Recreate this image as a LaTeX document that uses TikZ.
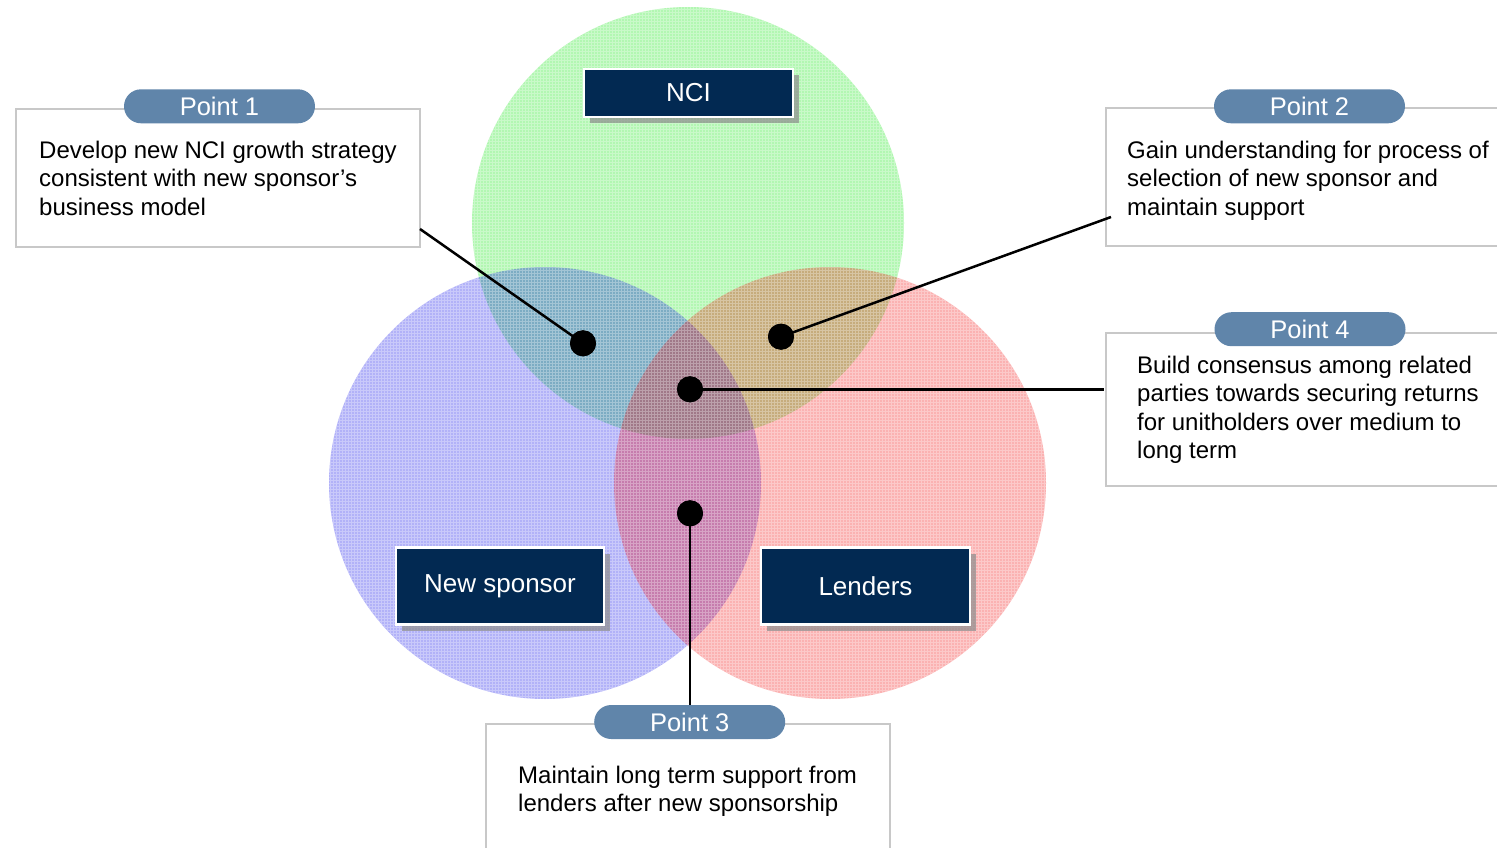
\documentclass[tikz,border=0pt]{standalone}
\usepackage{fontspec}
\setmainfont{Liberation Sans}
\usetikzlibrary{shadows}
\definecolor{vgreen}{RGB}{0,230,0}
\definecolor{vblue}{RGB}{0,0,235}
\definecolor{vred}{RGB}{245,0,0}
\definecolor{navy}{RGB}{2,41,82}
\definecolor{pillblue}{RGB}{96,133,170}
\definecolor{boxgrey}{RGB}{200,200,200}
\begin{document}
\begin{tikzpicture}[x=1pt,y=-1pt,
  venn/.style={fill opacity=0.3},
  mesh/.style={white, line width=0.5pt, opacity=0.3},
  pointbox/.style={draw=boxgrey, line width=2pt, fill=white, inner sep=0pt, anchor=north west},
  pill/.style={fill=pillblue, rounded corners=17pt, minimum width=191pt, minimum height=34pt,
    inner sep=0pt, text=white, font=\fontsize{25.5}{28}\selectfont},
  partybox/.style={fill=navy, draw=white, line width=2.5pt, text=white, inner sep=0pt,
    font=\fontsize{26}{30}\selectfont,
    drop shadow={shadow xshift=6pt, shadow yshift=-6pt, fill=black!45, opacity=0.7}},
  body/.style={font=\fontsize{24}{28.5}\selectfont, align=left, anchor=north west, inner sep=0pt},
  dot/.style={circle, fill=black, minimum size=26pt, inner sep=0pt},
  leader/.style={line width=2.5pt, black}]

\useasboundingbox[fill=white] (0,0) rectangle (1497,848);

% three overlapping circles
\fill[vgreen, venn] (688,223) circle (216);
\fill[vblue, venn] (545,483) circle (216);
\fill[vred, venn] (830,483) circle (216);

% fine mesh texture inside the circles
\begin{scope}
  \clip (688,223) circle (216) (545,483) circle (216) (830,483) circle (216);
  \draw[mesh, step=3pt] (320,0) grid (1060,710);
\end{scope}

% text boxes with their headings
\node[pointbox, minimum width=404pt, minimum height=138pt] (b1) at (15,108) {};
\node[pointbox, minimum width=420pt, minimum height=137pt] (b2) at (1105,107.5) {};
\node[pointbox, minimum width=420pt, minimum height=153pt] (b4) at (1105,331.5) {};
\node[pointbox, minimum width=404pt, minimum height=150pt] (b3) at (485,723) {};

\node[pill] (p1) at (219.5,106.3) {Point 1};
\node[pill] (p2) at (1309.5,106.3) {Point 2};
\node[pill] (p4) at (1310,329.2) {Point 4};
\node[pill] (p3) at (689.7,722) {Point 3};

\node[body] (t1) at (39,140.8) {Develop new NCI growth strategy\\consistent with new sponsor’s\\business model};
\node[body] (t2) at (1127,140.8) {Gain understanding for process of\\selection of new sponsor and\\maintain support};
\node[body] (t4) at (1137,355.8) {Build consensus among related\\parties towards securing returns\\for unitholders over medium to\\long term};
\node[body] (t3) at (518,765.8) {Maintain long term support from\\lenders after new sponsorship};

% party labels
\node[partybox, minimum width=209pt, minimum height=48pt] (nci) at (688.5,93) {NCI};
\node[partybox, minimum width=208pt, minimum height=77pt] (sponsor) at (500,586) {New sponsor};
\node[partybox, minimum width=209pt, minimum height=77pt] (lenders) at (865.5,586) {Lenders};

% overlap markers and their leaders
\node[dot] (d1) at (583,343.3) {};
\node[dot] (d2) at (781,336.7) {};
\node[dot] (d3) at (690,389.3) {};
\node[dot] (d4) at (690,513.3) {};

\coordinate (e1) at (420,229);
\coordinate (e2) at (1111,217);
\coordinate (e4) at (1104,389.3);

\draw[leader] (d1.center) -- (e1);
\draw[leader] (d2.center) -- (e2);
\draw[leader] (d3.center) -- (e4);
\draw[leader] (d4.center) -- (d4.center |- p3.north);

\node[dot] at (d1) {};
\node[dot] at (d2) {};
\node[dot] at (d3) {};
\node[dot] at (d4) {};
\end{tikzpicture}
\end{document}
